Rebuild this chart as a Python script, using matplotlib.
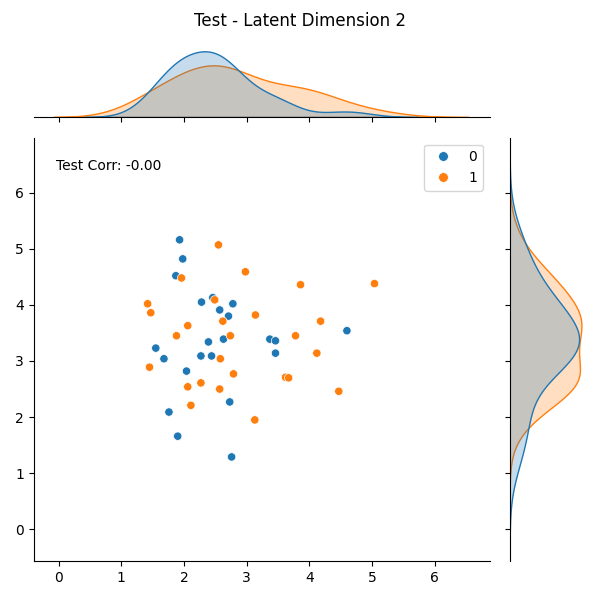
import matplotlib
matplotlib.use('Agg')
import matplotlib.pyplot as plt
import pandas as pd
import seaborn as sns

# latent dims, split by label
blueDim1 = [1.93, 1.98, 1.87, 2.28, 2.46, 2.57, 2.78, 2.71, 2.39, 2.63, 1.55, 1.68,
            2.27, 2.44, 2.04, 2.73, 1.76, 1.90, 2.76, 4.60, 3.37, 3.46, 3.46]
blueDim2 = [5.16, 4.82, 4.52, 4.05, 4.13, 3.91, 4.02, 3.80, 3.34, 3.39, 3.23, 3.04,
            3.09, 3.09, 2.82, 2.27, 2.09, 1.66, 1.29, 3.54, 3.39, 3.36, 3.14]
orangeDim1 = [2.55, 2.98, 1.96, 2.49, 1.42, 1.47, 3.14, 2.62, 2.06, 1.88, 2.74, 2.58,
              1.45, 2.79, 2.27, 2.06, 2.57, 2.11, 3.13, 3.86, 5.04, 4.18, 3.78, 4.12,
              3.62, 3.67, 4.47]
orangeDim2 = [5.07, 4.59, 4.48, 4.09, 4.02, 3.86, 3.82, 3.71, 3.63, 3.45, 3.45, 3.04,
              2.89, 2.77, 2.61, 2.54, 2.50, 2.21, 1.95, 4.36, 4.38, 3.71, 3.45, 3.14,
              2.71, 2.70, 2.46]
labels = [0, 1]
corrText = 'Test Corr: -0.00'
title = 'Test - Latent Dimension 2'

df = pd.DataFrame({
    'x': blueDim1 + orangeDim1,
    'y': blueDim2 + orangeDim2,
    'label': [labels[0]] * len(blueDim1) + [labels[1]] * len(orangeDim1),
})

g = sns.jointplot(data=df, x='x', y='y', hue='label', height=6, palette=['#1f77b4', '#ff7f0e'])
g.ax_joint.set_xlabel('')
g.ax_joint.set_ylabel('')
g.ax_joint.text(0.05, 0.95, corrText, transform=g.ax_joint.transAxes, va='top')
sns.move_legend(g.ax_joint, 'upper right', title=None)
# bigger legend dots, like the scatter points
for h in g.ax_joint.get_legend().legend_handles:
    if hasattr(h, 'set_markersize'):
        h.set_markersize(7)
    elif hasattr(h, 'set_sizes'):
        h.set_sizes([45])
g.figure.suptitle(title)
g.figure.tight_layout()

g.ax_joint.set_xlim(-0.4, 6.88)
g.ax_joint.set_ylim(-0.57, 6.98)
# nudge the top marginal to sit like the original
jp = g.ax_joint.get_position()
g.ax_marg_x.set_position([jp.x0, 1 - 117 / 600, jp.width, 69 / 600])
g.figure.savefig('out.png', dpi=100)
